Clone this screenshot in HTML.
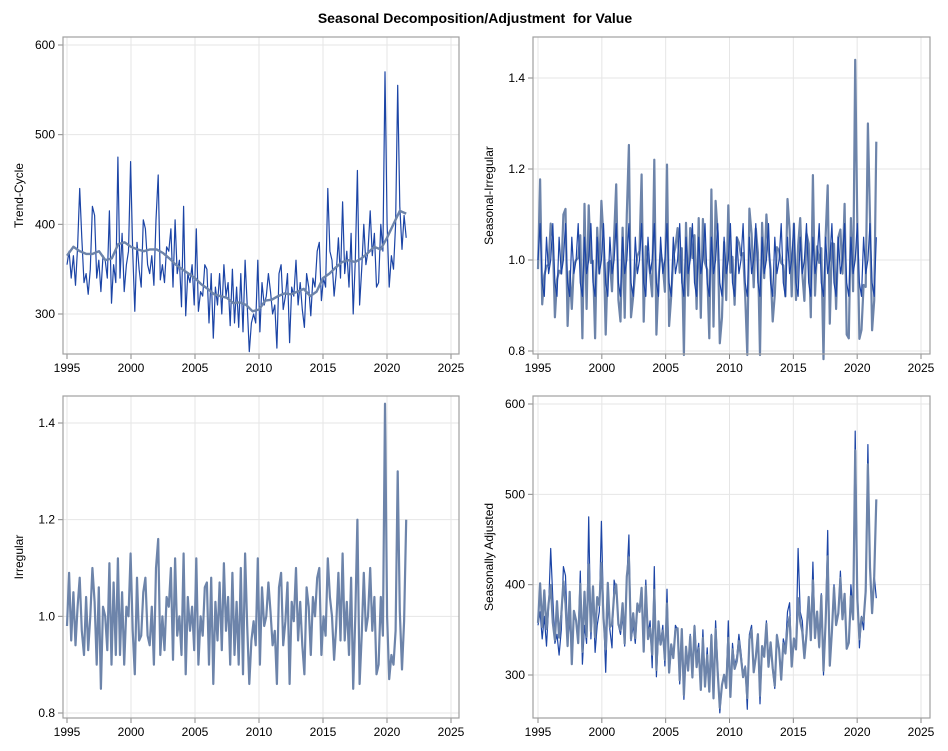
<!DOCTYPE html>
<html><head><meta charset="utf-8"><style>
body{margin:0;background:#fff;}
svg{display:block;font-family:"Liberation Sans",Arial,sans-serif;}
</style></head><body>
<svg id="chart" width="948" height="751" viewBox="0 0 948 751">
<rect width="948" height="751" fill="#fff"/>
<text x="475" y="23" text-anchor="middle" font-size="14" font-weight="bold">Seasonal Decomposition/Adjustment&#160; for Value</text>
</svg>
<script>
const startYear = 1995;
const endYear = 2021.5;
const original = [355,370,340,365,332,375, 440,385,335,345,322,350, 420,410,340,360,325,365, 360,340,415,312,355,335,
475,340,390,325,355,370, 470,370,303,380,350,330, 405,395,355,345,365,332, 405,455,338,355,335,375,
370,395,330,405,345,360, 308,420,298,345,335,355, 310,395,303,325,320,355, 350,290,345,273,330,310,
345,300,355,320,335,287, 350,290,330,285,345,280, 360,310,258,290,300,290, 360,280,335,310,320,345,
325,300,310,262,345,355, 305,320,345,268,330,320, 360,310,335,305,285,345, 330,298,340,330,370,380,
315,340,330,440,370,360, 320,345,385,340,425,345, 370,330,390,300,360,460, 310,350,400,355,370,415,
365,390,330,335,400,370, 570,400,330,365,350,400, 555,420,372,410,385];
const trend = [365,375,370,367,367,370,360,362,378,380,375,372,370,372,372,368,362,355,350,345,340,333,328,322,320,318,312,313,310,303,305,315,316,320,323,322,325,328,320,325,340,345,352,358,360,358,362,368,375,372,385,400,415,412];
const irregular = [0.98,1.09,0.95,1.05,0.94,1.02, 1.08,0.97,0.92,1.04,0.93,1.00, 1.10,1.03,0.90,1.06,0.85,1.02, 1.00,0.93,1.11,0.90,1.07,0.92,
1.12,0.92,1.05,0.90,1.02,1.00, 1.13,0.97,0.88,1.08,0.95,0.96, 1.05,1.08,0.96,0.94,1.02,0.90, 1.10,1.16,0.92,1.00,0.93,1.04,
1.02,1.10,0.91,1.12,0.96,1.00, 0.92,1.13,0.88,1.04,0.97,1.02, 0.93,1.12,0.90,1.00,0.96,1.06, 1.07,0.90,1.08,0.86,1.03,0.95,
1.07,0.93,1.11,0.97,1.04,0.90, 1.09,0.92,1.03,0.90,1.10,0.88, 1.13,0.98,0.86,0.95,0.99,0.94, 1.12,0.90,1.06,0.98,1.00,1.07,
1.01,0.94,0.97,0.86,1.06,1.09, 0.94,0.99,1.07,0.86,1.03,0.99, 1.10,0.95,1.03,0.94,0.88,1.06, 1.02,0.92,1.04,1.00,1.08,1.10,
0.92,1.00,0.96,1.12,1.04,1.00, 0.91,0.98,1.09,0.95,1.13,0.95, 1.03,0.92,1.08,0.85,1.00,1.20, 0.86,0.96,1.09,0.97,1.00,1.10,
0.97,1.04,0.88,0.90,1.04,0.96, 1.44,1.00,0.87,0.92,0.90,0.97, 1.30,1.01,0.89,0.99,1.20];
const seasonalPattern = [1.0,1.08,0.95,0.92,1.05,0.97];
const xTicks = [1995,2000,2005,2010,2015,2020,2025];
const yTicksLevel = [300,400,500,600];
const yTicksRatio = [0.8,1.0,1.2,1.4];
const yTickLabelsRatio = ["0.8","1.0","1.2","1.4"];

const svg = document.getElementById('chart');
const NS = 'http://www.w3.org/2000/svg';
function mk(tag, attrs){const e=document.createElementNS(NS,tag);for(const k in attrs)e.setAttribute(k,attrs[k]);svg.appendChild(e);return e;}

const stepOrig = (endYear-startYear)/(original.length-1);
function trendAt(t){const i=(t-startYear)*2;const i0=Math.max(0,Math.min(trend.length-1,Math.floor(i)));const i1=Math.min(trend.length-1,i0+1);const f=Math.max(0,Math.min(1,i-i0));return trend[i0]*(1-f)+trend[i1]*f;}
const times = original.map((v,i)=>startYear+i*stepOrig);
const seasonal = original.map((v,i)=>seasonalPattern[i%6]);
const si = irregular.map((v,i)=>v*seasonal[i]);
const sa = irregular.map((v,i)=>v*trendAt(times[i]));

function panel(cfg){
  const {x0,y0,x1,y1,ax,ay,ticksY,labelsY,yTitle,name}=cfg;
  const X=t=>ax[0]+(t-1995)*(ax[1]-ax[0])/30;
  const Y=v=>ay[0]+(v-ay[2])*(ay[1]-ay[0])/(ay[3]-ay[2]);
  let g;
  xTicks.forEach(t=>{
    g=mk('line',{x1:X(t),x2:X(t),y1:y0,y2:y1,stroke:'#e6e6e6','stroke-width':1});
    
    
    g=mk('line',{x1:X(t),x2:X(t),y1:y1,y2:y1+5,stroke:'#888'});
    
    
    g=mk('text',{x:X(t),y:y1+18,'text-anchor':'middle','font-size':12,fill:'#000'});
    g.textContent=t;
    
    
  });
  ticksY.forEach((v,i)=>{
    g=mk('line',{x1:x0,x2:x1,y1:Y(v),y2:Y(v),stroke:'#e6e6e6','stroke-width':1});
    
    
    g=mk('line',{x1:x0-5,x2:x0,y1:Y(v),y2:Y(v),stroke:'#888'});
    
    
    g=mk('text',{x:x0-8,y:Y(v)+4,'text-anchor':'end','font-size':12,fill:'#000'});
    g.textContent=labelsY[i];
    
    
  });
  const cy=(y0+y1)/2;
  g=mk('text',{x:0,y:0,transform:`translate(${x0-40},${cy}) rotate(-90)`,'text-anchor':'middle','font-size':12,fill:'#000'});
  g.textContent=yTitle;
  
  
  function line(ts,vals,color,w,nm){
    const d=vals.map((v,i)=>(i?'L':'M')+X(ts[i]).toFixed(1)+','+Y(v).toFixed(1)).join('');
    const p=mk('path',{d,fill:'none',stroke:color,'stroke-width':w,'stroke-linejoin':'round'});
    
    
  }
  cfg.series.forEach(s=>line(s.t,s.v,s.c,s.w,s.n));
  g=mk('rect',{x:x0,y:y0,width:x1-x0,height:y1-y0,fill:'none',stroke:'#a0a0a0','stroke-width':1.2});
  
  
}
const trendTimes = trend.map((v,i)=>startYear+i*0.5);
const BLUE='#1c45a6', GREY='#6d84aa';
panel({name:'trend-cycle-panel',x0:63,y0:37,x1:459,y1:354,ax:[67,451],ay:[314,45,300,600],ticksY:yTicksLevel,labelsY:yTicksLevel.map(String),yTitle:'Trend-Cycle',
  series:[{t:times,v:original,c:BLUE,w:1.2,n:'original-series-line'},{t:trendTimes,v:trend,c:GREY,w:2.4,n:'trend-cycle-line'}]});
panel({name:'seasonal-irregular-panel',x0:533,y0:37,x1:930,y1:354,ax:[538,921],ay:[351,78,0.8,1.4],ticksY:yTicksRatio,labelsY:yTickLabelsRatio,yTitle:'Seasonal-Irregular',
  series:[{t:times,v:si,c:GREY,w:2.2,n:'si-ratio-line'},{t:times,v:seasonal,c:BLUE,w:1.2,n:'seasonal-factor-line'}]});
panel({name:'irregular-panel',x0:63,y0:396,x1:459,y1:718,ax:[67,451],ay:[713,423,0.8,1.4],ticksY:yTicksRatio,labelsY:yTickLabelsRatio,yTitle:'Irregular',
  series:[{t:times,v:irregular,c:GREY,w:2.2,n:'irregular-line'}]});
panel({name:'seasonally-adjusted-panel',x0:533,y0:396,x1:930,y1:718,ax:[538,921],ay:[675,404,300,600],ticksY:yTicksLevel,labelsY:yTicksLevel.map(String),yTitle:'Seasonally Adjusted',
  series:[{t:times,v:original,c:BLUE,w:1.2,n:'original-series-line-2'},{t:times,v:sa,c:GREY,w:2.2,n:'seasonally-adjusted-line'}]});
</script>
</body></html>
